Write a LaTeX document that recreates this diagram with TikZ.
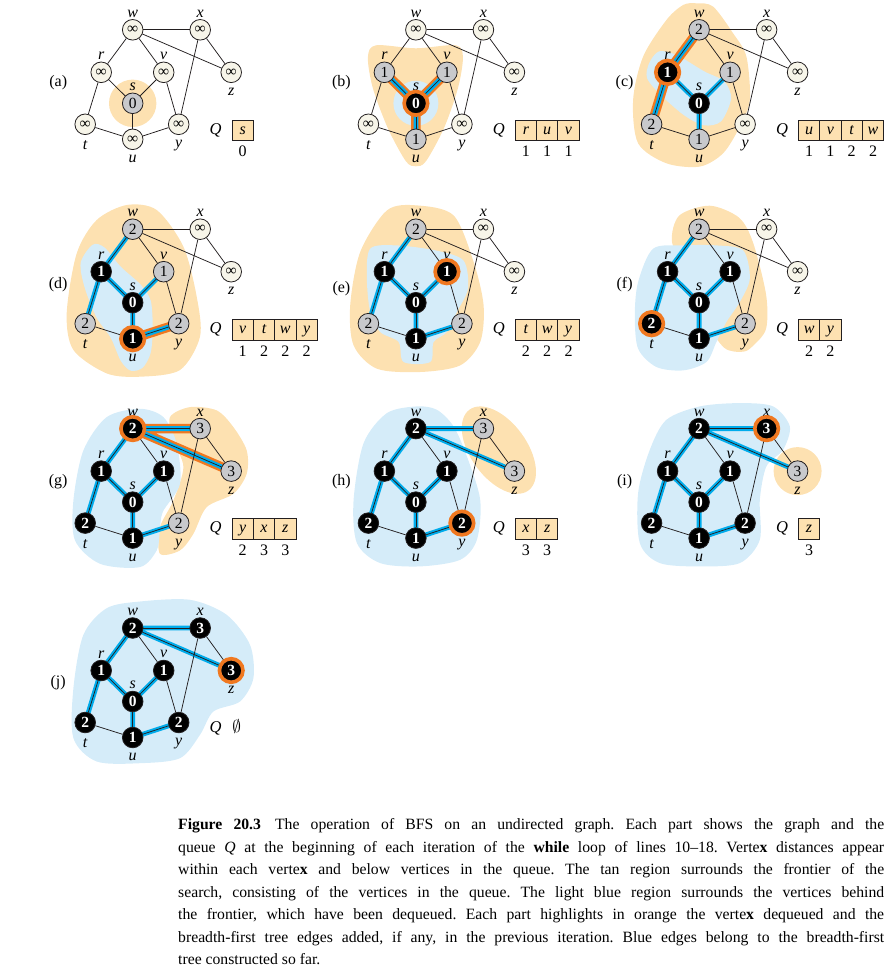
\documentclass[tikz,border=0pt]{standalone}
\usepackage{fontspec}
\setmainfont{Liberation Serif}
\usetikzlibrary{positioning}

\definecolor{tanfill}{RGB}{253,225,177}
\definecolor{bluefill}{RGB}{213,236,249}
\definecolor{treecyan}{RGB}{0,172,236}
\definecolor{hiorange}{RGB}{240,120,32}
\definecolor{creamfill}{RGB}{247,245,233}
\definecolor{grayfill}{RGB}{200,201,204}
\definecolor{ink}{RGB}{35,31,32}

\pgfdeclarelayer{regions}
\pgfdeclarelayer{bands}
\pgfsetlayers{regions,bands,main}

\newcommand{\numfont}{\fontsize{15.5}{15.5}\selectfont}
\newcommand{\lblfont}{\fontsize{16}{16}\selectfont\itshape}

% one copy of the graph; the arguments give the state of s,w,x,r,v,z,t,y,u
\newcommand{\bfsgraph}[9]{%
  \node (s) at (0,0)       [label={[vtop]above:s}, #1];
  \node (w) at (0,73.5)    [label={[vtop]above:w}, #2];
  \node (x) at (67.5,73.5) [label={[vtop]above:x}, #3];
  \node (r) at (-31.5,31)  [label={[vtop]above:r}, #4];
  \node (v) at (31,31)     [label={[vtop]above:v}, #5];
  \node (z) at (98.5,31)   [label={[vbot]below:z}, #6];
  \node (t) at (-47.5,-21) [label={[vbot]below:t}, #7];
  \node (y) at (46,-21)    [label={[vbot]below:y}, #8];
  \node (u) at (0,-36)     [label={[vbot]below:u}, #9];
  \foreach \ea/\eb in {w/x,w/r,w/v,w/z,x/z,x/y,r/s,r/t,v/s,v/y,s/u,t/u,u/y}
    \draw[edge] (\ea) -- (\eb);
}

\begin{document}
\begin{tikzpicture}[x=1pt, y=1pt,
    vtx/.style={circle, draw=ink, line width=0.8pt, minimum size=20.6pt,
      inner sep=0pt, font=\numfont},
    fresh/.style={vtx, fill=creamfill, node contents={∞}},
    queued/.style={vtx, fill=grayfill, node contents={#1}},
    done/.style={vtx, fill=black, text=white, font=\numfont\bfseries,
      node contents={#1}},
    vtop/.style={font=\lblfont, inner sep=1.5pt},
    vbot/.style={font=\lblfont, inner sep=1.5pt, label distance=3.5pt},
    edge/.style={draw=ink, line width=0.75pt},
    tree/.style={draw=treecyan, line width=4.8pt},
    newtree/.style={draw=hiorange, line width=9.5pt},
    ring/.style={draw=hiorange, line width=3.6pt},
    tanreg/.style={fill=tanfill},
    bluereg/.style={fill=bluefill},
    plab/.style={font=\fontsize{16}{16}\selectfont},
    qlab/.style={font=\fontsize{16.5}{16.5}\selectfont\itshape,
      text height=11pt, text depth=3.5pt},
    qbox/.style={draw=ink, line width=0.8pt, fill=tanfill, outer sep=0pt,
      minimum width=21.3pt, minimum height=20.5pt, inner sep=0pt,
      font=\lblfont, text height=11pt, text depth=3.5pt},
    qnum/.style={font=\fontsize{16}{16}\selectfont, inner sep=1pt},
    caption/.style={font=\fontsize{15.7}{22.5}\selectfont, inner sep=0pt}
  ]
  \useasboundingbox (0,0) rectangle (896,-966);

  % (a)
  \begin{scope}[shift={(132.7,-103.3)}, name prefix=a-]
    \begin{pgfonlayer}{regions}
      \fill[tanreg] (0,0) circle (23.7);
    \end{pgfonlayer}
    \bfsgraph{queued=0}{fresh}{fresh}{fresh}{fresh}{fresh}{fresh}{fresh}{fresh}
    \node[plab] (tag) at (-74.5,21) {(a)};
    \node[qlab] (Q) at (83,-27) {Q};
    \node[qbox] (q1) at (110,-27) {s};
    \node[qnum, below=4.5pt of q1] (d1) {0};
  \end{scope}

  % (b)
  \begin{scope}[shift={(415.9,-103.3)}, name prefix=b-]
    \begin{pgfonlayer}{regions}
      \fill[tanreg] plot[smooth cycle] coordinates {(-40,58) (0,55) (40,58)
        (47,46) (42,15) (28,-25) (10,-58) (0,-63) (-10,-58) (-28,-25)
        (-43,15) (-48,46)};
      \fill[bluereg] (0,0) circle (22.5);
    \end{pgfonlayer}
    \bfsgraph{done=0}{fresh}{fresh}{queued=1}{queued=1}{fresh}{fresh}{fresh}{queued=1}
    \begin{pgfonlayer}{bands}
      \draw[newtree] (s.center) -- (r.center) (s.center) -- (v.center)
        (s.center) -- (u.center);
      \draw[tree] (s.center) -- (r.center) (s.center) -- (v.center)
        (s.center) -- (u.center);
    \end{pgfonlayer}
    \draw[ring] (s.center) circle (11.8);
    \node[plab] (tag) at (-74.5,21) {(b)};
    \node[qlab] (Q) at (83,-27) {Q};
    \node[qbox] (q1) at (110,-27) {r};
    \node[qbox, right=0pt of q1] (q2) {u};
    \node[qbox, right=0pt of q2] (q3) {v};
    \node[qnum, below=4.5pt of q1] (d1) {1};
    \node[qnum, below=4.5pt of q2] (d2) {1};
    \node[qnum, below=4.5pt of q3] (d3) {1};
  \end{scope}

  % (c)
  \begin{scope}[shift={(699.1,-103.3)}, name prefix=c-]
    \begin{pgfonlayer}{regions}
      \fill[tanreg] plot[smooth cycle] coordinates {(-2.7,100) (14,96.7)
        (34,70) (47.3,46.7) (50.7,3.3) (40.7,-23.3) (24,-50) (0.7,-63.3)
        (-32.7,-60) (-61,-40) (-66,3.3) (-56,46.7) (-32.7,83.3) (-16,98.3)};
      \fill[bluereg] plot[smooth cycle] coordinates {(-50,40) (-40,52)
        (-22,48) (5,32) (25,22) (32,5) (22,-18) (5,-22) (-15,-12) (-38,8)
        (-52,25)};
    \end{pgfonlayer}
    \bfsgraph{done=0}{queued=2}{fresh}{done=1}{queued=1}{fresh}{queued=2}{fresh}{queued=1}
    \begin{pgfonlayer}{bands}
      \draw[newtree] (r.center) -- (w.center) (r.center) -- (t.center);
      \draw[tree] (s.center) -- (r.center) (s.center) -- (v.center)
        (s.center) -- (u.center) (r.center) -- (w.center)
        (r.center) -- (t.center);
    \end{pgfonlayer}
    \draw[ring] (r.center) circle (11.8);
    \node[plab] (tag) at (-74.5,21) {(c)};
    \node[qlab] (Q) at (83,-27) {Q};
    \node[qbox] (q1) at (110,-27) {u};
    \node[qbox, right=0pt of q1] (q2) {v};
    \node[qbox, right=0pt of q2] (q3) {t};
    \node[qbox, right=0pt of q3] (q4) {w};
    \node[qnum, below=4.5pt of q1] (d1) {1};
    \node[qnum, below=4.5pt of q2] (d2) {1};
    \node[qnum, below=4.5pt of q3] (d3) {2};
    \node[qnum, below=4.5pt of q4] (d4) {2};
  \end{scope}

  % (d)
  \begin{scope}[shift={(132.7,-302.7)}, name prefix=d-]
    \begin{pgfonlayer}{regions}
      \fill[tanreg] plot[smooth cycle] coordinates {(-6,97.7) (24,92.7)
        (50.7,56) (64,6) (67.3,-34) (47.3,-67.3) (7.3,-74) (-26,-70.7)
        (-59.3,-47.3) (-66,-10.7) (-56,49.3) (-36,82.7)};
      \fill[bluereg] plot[smooth cycle] coordinates {(-40,58) (-28,55)
        (-12,36) (8,18) (18,2) (20,-25) (18,-50) (10,-65) (-2,-68)
        (-12,-58) (-22,-35) (-36,-15) (-48,15) (-52,40)};
    \end{pgfonlayer}
    \bfsgraph{done=0}{queued=2}{fresh}{done=1}{queued=1}{fresh}{queued=2}{queued=2}{done=1}
    \begin{pgfonlayer}{bands}
      \draw[newtree] (u.center) -- (y.center);
      \draw[tree] (s.center) -- (r.center) (s.center) -- (v.center)
        (s.center) -- (u.center) (r.center) -- (w.center)
        (r.center) -- (t.center) (u.center) -- (y.center);
    \end{pgfonlayer}
    \draw[ring] (u.center) circle (11.8);
    \node[plab] (tag) at (-74.5,18.5) {(d)};
    \node[qlab] (Q) at (83,-27) {Q};
    \node[qbox] (q1) at (110,-27) {v};
    \node[qbox, right=0pt of q1] (q2) {t};
    \node[qbox, right=0pt of q2] (q3) {w};
    \node[qbox, right=0pt of q3] (q4) {y};
    \node[qnum, below=4.5pt of q1] (d1) {1};
    \node[qnum, below=4.5pt of q2] (d2) {2};
    \node[qnum, below=4.5pt of q3] (d3) {2};
    \node[qnum, below=4.5pt of q4] (d4) {2};
  \end{scope}

  % (e)
  \begin{scope}[shift={(415.9,-302.7)}, name prefix=e-]
    \begin{pgfonlayer}{regions}
      \fill[tanreg] plot[smooth cycle] coordinates {(1,97.3) (37.7,87.3)
        (57.7,40.7) (67.7,-2.7) (64.3,-39.3) (44.3,-62.7) (4.3,-69.3)
        (-39,-66) (-62.3,-42.7) (-65.7,-2.7) (-55.7,50.7) (-29,92.3)};
      \fill[bluereg] plot[smooth cycle] coordinates {(-45.7,54) (-19,57.3)
        (21,52) (47.7,42) (52,14) (41,-9.3) (31,-29.3) (17.7,-39.3)
        (14.3,-59.3) (-12.3,-59.3) (-17.3,-39.3) (-35.7,-29.3)
        (-45.7,-9.3) (-49,24)};
    \end{pgfonlayer}
    \bfsgraph{done=0}{queued=2}{fresh}{done=1}{done=1}{fresh}{queued=2}{queued=2}{done=1}
    \begin{pgfonlayer}{bands}
      \draw[tree] (s.center) -- (r.center) (s.center) -- (v.center)
        (s.center) -- (u.center) (r.center) -- (w.center)
        (r.center) -- (t.center) (u.center) -- (y.center);
    \end{pgfonlayer}
    \draw[ring] (v.center) circle (11.8);
    \node[plab] (tag) at (-74.5,14.5) {(e)};
    \node[qlab] (Q) at (83,-27) {Q};
    \node[qbox] (q1) at (110,-27) {t};
    \node[qbox, right=0pt of q1] (q2) {w};
    \node[qbox, right=0pt of q2] (q3) {y};
    \node[qnum, below=4.5pt of q1] (d1) {2};
    \node[qnum, below=4.5pt of q2] (d2) {2};
    \node[qnum, below=4.5pt of q3] (d3) {2};
  \end{scope}

  % (f)
  \begin{scope}[shift={(699.1,-302.7)}, name prefix=f-]
    \begin{pgfonlayer}{regions}
      \fill[tanreg] plot[smooth cycle] coordinates {(10.7,97) (40,85)
        (54,60) (67,8) (67,-26) (54,-43) (44,-49) (25,-45) (5,-15)
        (-10,30) (-27,60) (-20,87)};
      \fill[bluereg] plot[smooth cycle] coordinates {(-46,54) (-16,57.3)
        (17.3,57.3) (44,52.3) (50.7,24) (40.7,0.7) (27.3,-19.3)
        (17.3,-39.3) (7.3,-59.3) (-16,-67.7) (-42.7,-64.3) (-61,-46)
        (-64.3,-12.7) (-61,20.7)};
    \end{pgfonlayer}
    \bfsgraph{done=0}{queued=2}{fresh}{done=1}{done=1}{fresh}{done=2}{queued=2}{done=1}
    \begin{pgfonlayer}{bands}
      \draw[tree] (s.center) -- (r.center) (s.center) -- (v.center)
        (s.center) -- (u.center) (r.center) -- (w.center)
        (r.center) -- (t.center) (u.center) -- (y.center);
    \end{pgfonlayer}
    \draw[ring] (t.center) circle (11.8);
    \node[plab] (tag) at (-74.5,18.5) {(f)};
    \node[qlab] (Q) at (83,-27) {Q};
    \node[qbox] (q1) at (110,-27) {w};
    \node[qbox, right=0pt of q1] (q2) {y};
    \node[qnum, below=4.5pt of q1] (d1) {2};
    \node[qnum, below=4.5pt of q2] (d2) {2};
  \end{scope}

  % (g)
  \begin{scope}[shift={(132.7,-502.1)}, name prefix=g-]
    \begin{pgfonlayer}{regions}
      \fill[tanreg] plot[smooth cycle] coordinates {(37.3,85) (57.3,95)
        (84,91.7) (100.7,75) (114,51.7) (114,28.3) (100.7,8.3) (74,-5)
        (60.7,-31.7) (47.3,-48.3) (27.3,-51.7) (27.3,-25) (40.7,1.7)
        (50.7,35) (40.7,61.7)};
      \fill[bluereg] plot[smooth cycle] coordinates {(7.3,93.3) (30.7,85)
        (44,58.3) (47.3,18.3) (30,-10) (27,-30) (24,-48.3) (7.3,-65)
        (-32.7,-61.7) (-57.7,-38.3) (-59.3,1.7) (-49.3,51.7) (-26,85)};
    \end{pgfonlayer}
    \bfsgraph{done=0}{done=2}{queued=3}{done=1}{done=1}{queued=3}{done=2}{queued=2}{done=1}
    \begin{pgfonlayer}{bands}
      \draw[newtree] (w.center) -- (x.center) (w.center) -- (z.center);
      \draw[tree] (s.center) -- (r.center) (s.center) -- (v.center)
        (s.center) -- (u.center) (r.center) -- (w.center)
        (r.center) -- (t.center) (u.center) -- (y.center)
        (w.center) -- (x.center) (w.center) -- (z.center);
    \end{pgfonlayer}
    \draw[ring] (w.center) circle (11.8);
    \node[plab] (tag) at (-74.5,20.4) {(g)};
    \node[qlab] (Q) at (83,-27) {Q};
    \node[qbox] (q1) at (110,-27) {y};
    \node[qbox, right=0pt of q1] (q2) {x};
    \node[qbox, right=0pt of q2] (q3) {z};
    \node[qnum, below=4.5pt of q1] (d1) {2};
    \node[qnum, below=4.5pt of q2] (d2) {3};
    \node[qnum, below=4.5pt of q3] (d3) {3};
  \end{scope}

  % (h)
  \begin{scope}[shift={(415.9,-502.1)}, name prefix=h-]
    \begin{pgfonlayer}{regions}
      \fill[tanreg, rotate around={-54:(83,52)}] (83,52) ellipse (50 and 28);
      \fill[bluereg] plot[smooth cycle] coordinates {(1,95.7) (21,92.3)
        (37.7,75.7) (51,45.7) (64.3,2.3) (61,-37.7) (44.3,-57.7)
        (4.3,-64.3) (-35.7,-61) (-59,-41) (-62.3,2.3) (-52.3,59) (-29,89)};
    \end{pgfonlayer}
    \bfsgraph{done=0}{done=2}{queued=3}{done=1}{done=1}{queued=3}{done=2}{done=2}{done=1}
    \begin{pgfonlayer}{bands}
      \draw[tree] (s.center) -- (r.center) (s.center) -- (v.center)
        (s.center) -- (u.center) (r.center) -- (w.center)
        (r.center) -- (t.center) (u.center) -- (y.center)
        (w.center) -- (x.center) (w.center) -- (z.center);
    \end{pgfonlayer}
    \draw[ring] (y.center) circle (11.8);
    \node[plab] (tag) at (-74.5,20.4) {(h)};
    \node[qlab] (Q) at (83,-27) {Q};
    \node[qbox] (q1) at (110,-27) {x};
    \node[qbox, right=0pt of q1] (q2) {z};
    \node[qnum, below=4.5pt of q1] (d1) {3};
    \node[qnum, below=4.5pt of q2] (d2) {3};
  \end{scope}

  % (i)
  \begin{scope}[shift={(699.1,-502.1)}, name prefix=i-]
    \begin{pgfonlayer}{regions}
      \fill[tanreg] (98.5,31) circle (24);
      \fill[bluereg] plot[smooth cycle] coordinates {(0.7,95.7) (40.7,99)
        (74,95.7) (90.7,75.7) (84,52.3) (67.3,35.7) (60.7,2.3)
        (60.7,-37.7) (40.7,-61) (0.7,-64.3) (-39.3,-61) (-59.3,-41)
        (-61,9) (-49.3,52.3) (-32.7,82.3)};
    \end{pgfonlayer}
    \bfsgraph{done=0}{done=2}{done=3}{done=1}{done=1}{queued=3}{done=2}{done=2}{done=1}
    \begin{pgfonlayer}{bands}
      \draw[tree] (s.center) -- (r.center) (s.center) -- (v.center)
        (s.center) -- (u.center) (r.center) -- (w.center)
        (r.center) -- (t.center) (u.center) -- (y.center)
        (w.center) -- (x.center) (w.center) -- (z.center);
    \end{pgfonlayer}
    \draw[ring] (x.center) circle (11.8);
    \node[plab] (tag) at (-74.5,20.4) {(i)};
    \node[qlab] (Q) at (83,-27) {Q};
    \node[qbox] (q1) at (110,-27) {z};
    \node[qnum, below=4.5pt of q1] (d1) {3};
  \end{scope}

  % (j)
  \begin{scope}[shift={(132.7,-701.5)}, name prefix=j-]
    \begin{pgfonlayer}{regions}
      \fill[bluereg] plot[smooth cycle] coordinates {(7.3,100) (57.3,101.7)
        (94,86.7) (117.3,56.7) (120.7,23.3) (107.3,0) (80.7,-10)
        (67.3,-33.3) (47.3,-56.7) (7.3,-61.7) (-36,-60) (-59.3,-36.7)
        (-59.3,13.3) (-49.3,66.7) (-26,93.3)};
    \end{pgfonlayer}
    \bfsgraph{done=0}{done=2}{done=3}{done=1}{done=1}{done=3}{done=2}{done=2}{done=1}
    \begin{pgfonlayer}{bands}
      \draw[tree] (s.center) -- (r.center) (s.center) -- (v.center)
        (s.center) -- (u.center) (r.center) -- (w.center)
        (r.center) -- (t.center) (u.center) -- (y.center)
        (w.center) -- (x.center) (w.center) -- (z.center);
    \end{pgfonlayer}
    \draw[ring] (z.center) circle (11.8);
    \node[plab] (tag) at (-74.5,18.5) {(j)};
    \node[qlab] (Q) at (83,-27) {Q};
    \node[qlab] (q0) at (104,-27) {$\emptyset$};
  \end{scope}

  % caption
  \node[caption, anchor=base west] (cap) at (178,-829.5) {\parbox[t]{706pt}{%
    \frenchspacing\hyphenpenalty=10000 \tolerance=10000
    \textbf{Figure 20.3}\hspace{0.9em}The operation of BFS on an undirected graph. Each part shows the graph and the\linebreak
    queue \textit{Q} at the beginning of each iteration of the \textbf{while} loop of lines 10--18. Verte\textbf{x} distances appear\linebreak
    within each verte\textbf{x} and below vertices in the queue. The tan region surrounds the frontier of the\linebreak
    search, consisting of the vertices in the queue. The light blue region surrounds the vertices behind\linebreak
    the frontier, which have been dequeued. Each part highlights in orange the verte\textbf{x} dequeued and the\linebreak
    breadth-first tree edges added, if any, in the previous iteration. Blue edges belong to the breadth-first\linebreak
    tree constructed so far.}};
\end{tikzpicture}
\end{document}
